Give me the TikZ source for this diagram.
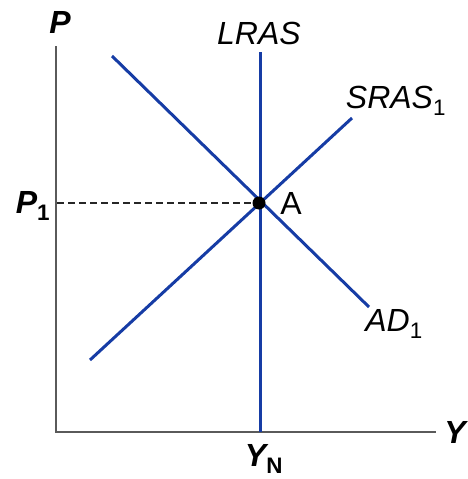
\documentclass[tikz,border=0pt]{standalone}
\usepackage{fontspec}
\setmainfont{Liberation Sans}
\begin{document}
\begin{tikzpicture}[x=1pt,y=-1pt,
  axis/.style={draw=axisgray,line width=2pt},
  curve/.style={draw=curveblue,line width=3pt},
  lbl/.style={inner sep=0pt,font=\fontsize{32}{33}\selectfont},
]
\definecolor{axisgray}{RGB}{90,90,90}
\definecolor{curveblue}{RGB}{22,60,165}
\useasboundingbox (0,0) rectangle (467,479);
% axes
\coordinate (O) at (56,432);
\coordinate (ytop) at (56,46);
\coordinate (xend) at (436,432);
\draw[axis] (ytop) -- (O) -- (xend);
% curves
\coordinate (lrasT) at (260,52);
\coordinate (lrasB) at (260,432);
\draw[curve] (lrasT) -- (lrasB);
\coordinate (srasA) at (90,360);
\coordinate (srasB) at (352,118);
\draw[curve] (srasA) -- (srasB);
\coordinate (adA) at (112,56);
\coordinate (adB) at (369,307);
\draw[curve] (adA) -- (adB);
% equilibrium
\node[circle,fill=black,inner sep=0pt,minimum size=13pt] (A) at (259,203) {};
\coordinate (p1) at (57,203);
\draw[dashed,line width=1.3pt,dash pattern=on 7pt off 4pt,draw=black!85] (p1) -- (A);
% labels
\node[lbl,font=\fontsize{32}{33}\selectfont\bfseries\itshape] (P) at (60,22) {P};
\node[lbl,font=\fontsize{32}{33}\selectfont\itshape] (LRAS) at (259,33) {LRAS};
\node[lbl,font=\fontsize{32}{33}\selectfont\itshape] (SRAS) at (396,101) {SRAS\textsubscript{\upshape 1}};
\node[lbl,font=\fontsize{32}{33}\selectfont\itshape] (AD) at (394,324) {AD\textsubscript{\upshape 1}};
\node[lbl] (Alab) at (291,203) {A};
\node[lbl,font=\fontsize{32}{33}\selectfont\bfseries\itshape] (P1) at (33,206) {P\textsubscript{\upshape 1}};
\node[lbl,font=\fontsize{32}{33}\selectfont\bfseries\itshape] (Y) at (455,432) {Y};
\node[lbl,font=\fontsize{32}{33}\selectfont\bfseries\itshape] (YN) at (264,459) {Y\textsubscript{\upshape N}};
\end{tikzpicture}
\end{document}
